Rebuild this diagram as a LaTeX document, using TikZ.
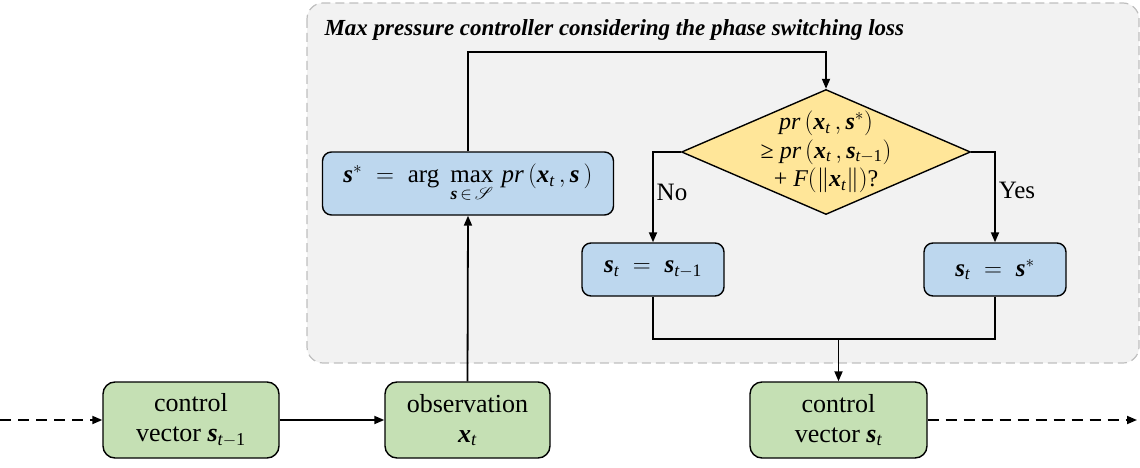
\documentclass[tikz,border=0pt]{standalone}
\usepackage{amsmath}
\usepackage{mathrsfs}
\usepackage{fontspec}
\setmainfont{Liberation Serif}
\usetikzlibrary{arrows.meta,shapes.geometric,calc}
\definecolor{bluefill}{HTML}{BDD7EE}
\definecolor{greenfill}{HTML}{C5E0B4}
\definecolor{yellowfill}{HTML}{FFE699}
\definecolor{panelfill}{HTML}{F2F2F2}
\definecolor{paneldraw}{HTML}{BFBFBF}
\newcommand{\vb}[1]{\text{\normalfont\bfseries\itshape #1}}
\newcommand{\iv}[1]{\text{\normalfont\itshape #1}}
\tikzset{
  every node/.style={font=\fontsize{25}{29}\selectfont},
  bluebox/.style={draw, line width=1.4pt, rounded corners=9pt, fill=bluefill, inner sep=0pt, align=center},
  greenbox/.style={draw, line width=1.4pt, rounded corners=12pt, fill=greenfill, inner sep=0pt, align=center,
    font=\fontsize{26}{30}\selectfont},
  conn/.style={line width=1.8pt},
  arr/.style={conn, -{Triangle[length=10pt,width=8pt]}},
  dasharr/.style={arr, dash pattern=on 11pt off 7pt},
}
\begin{document}
\begin{tikzpicture}[x=1pt,y=-1pt]
\useasboundingbox (0,0) rectangle (1140,468);
% panel
\draw[fill=panelfill, draw=paneldraw, line width=1.2pt, dash pattern=on 9pt off 5pt, rounded corners=16pt] (307,3) rectangle (1139,363);
\node[anchor=base west, font=\fontsize{23}{27}\selectfont\bfseries\itshape] (title) at (321,36) {Max pressure controller considering the phase switching loss};
% blue boxes
\node[bluebox, minimum width=291pt, minimum height=63pt] (am) at (468,183.5)
  {$\vb{s}^{*}\;=\;\text{arg}\;\mathop{\text{max}}\limits_{\vb{s}\,\in\,\mathscr{S}}\,\iv{pr}\,(\vb{x}_{\iv{t}}\,,\vb{s}\,)$};
\node[draw, line width=1.4pt, fill=yellowfill, shape=diamond, inner sep=0pt, minimum width=289pt, minimum height=125pt] (dia) at (826,152) {};
\node[align=center, inner sep=0pt, font=\fontsize{24}{28.5}\selectfont] (diatext) at (826,152)
  {$\iv{pr}\,(\vb{x}_{\iv{t}}\,,\vb{s}^{*})$\\
   ≥ $\iv{pr}\,(\vb{x}_{\iv{t}}\,,\vb{s}_{\iv{t}-\text{1}})$\\
   + $\iv{F}(\|\vb{x}_{\iv{t}}\|)$?};
\node[bluebox, minimum width=142pt, minimum height=53pt] (b1) at (653,269.5)
  {$\vb{s}_{\iv{t}}\;=\;\vb{s}_{\iv{t}-\text{1}}$};
\node[bluebox, minimum width=142pt, minimum height=53pt] (b2) at (995,269.5)
  {$\vb{s}_{\iv{t}}\;=\;\vb{s}^{*}$};
% green boxes
\node[greenbox, minimum width=176pt, minimum height=76pt] (c1) at (191,420)
  {control\\vector $\vb{s}_{\iv{t}-\text{1}}$};
\node[greenbox, minimum width=165pt, minimum height=76pt] (obs) at (467.5,420)
  {observation\\$\vb{x}_{\iv{t}}$};
\node[greenbox, minimum width=177pt, minimum height=76pt] (c2) at (838.5,420)
  {control\\vector $\vb{s}_{\iv{t}}$};
% labels
\node (no) at (672,192) {No};
\node (yes) at (1017,190) {Yes};
% coordinates
\coordinate (L) at (0,420);
\coordinate (R) at (1137,420);
\coordinate (m) at (838.5,339);
% connectors
\draw[dasharr] (L) -- (c1.west);
\draw[arr] (c1.east) -- (obs.west);
\draw[arr] (obs.north) -- (am.south);
\draw[arr] (am.north) -- ++(0,-99) -| (dia.north);
\draw[arr] (dia.west) -| (b1.north);
\draw[arr] (dia.east) -| (b2.north);
\draw[conn] (b1.south) |- (m);
\draw[conn] (b2.south) |- (m);
\draw[arr] (m) -- (c2.north);
\draw[dasharr] (c2.east) -- (R);
\end{tikzpicture}
\end{document}
